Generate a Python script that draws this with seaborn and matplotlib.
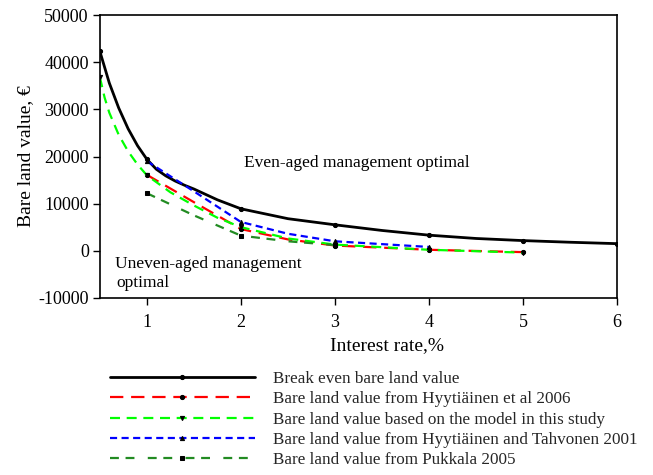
import numpy as np
import pandas as pd
import matplotlib
matplotlib.use("Agg")
import matplotlib.pyplot as plt
import seaborn as sns

# ---- data ----
be_rate = [0.5, 0.6, 0.7, 0.8, 0.9, 1.0, 1.1, 1.2, 1.3, 1.4, 1.5, 1.75, 2.0, 2.5, 3.0, 3.5, 4.0, 4.5, 5.0, 5.5, 6.0]
be_value = [42300, 35600, 30300, 25900, 22300, 19400, 17300, 15900, 14800, 13900, 13100, 10800, 8900,
            6800, 5500, 4300, 3300, 2600, 2150, 1800, 1500]
be_marks = [0, 5, 12, 14, 16, 18, 20]

h06_rate = [1.0, 1.5, 2.0, 2.5, 3.0, 4.0, 5.0]
h06_value = [16100, 10300, 4600, 2400, 1100, 200, -300]
h06_marks = [0, 2, 4, 5, 6]

st_rate = [0.5, 0.55, 0.6, 0.7, 0.8, 0.9, 1.0, 1.25, 1.5, 1.75, 2.0, 2.5, 3.0, 4.0, 5.0]
st_value = [36800, 32500, 29300, 24600, 21100, 18300, 16000, 12400, 9600, 7000, 5000, 2600, 1300, 200, -400]
st_marks = [0, 6, 10, 12, 13, 14]

ht_rate = [1.0, 1.5, 2.0, 2.5, 3.0, 4.0]
ht_value = [19000, 12600, 6100, 3600, 2000, 800]
ht_marks = [0, 2, 4, 5]

pk_rate = [1.0, 1.5, 2.0, 2.5, 3.0]
pk_value = [12200, 7500, 3200, 2000, 1200]
pk_marks = [0, 2, 4]

labels = ["Break even bare land value",
          "Bare land value from Hyytiäinen et al 2006",
          "Bare land value based on the model in this study",
          "Bare land value from Hyytiäinen and Tahvonen 2001",
          "Bare land value from Pukkala 2005"]

x_ticks = [1, 2, 3, 4, 5, 6]
y_ticks = [-10000, 0, 10000, 20000, 30000, 40000, 50000]

sns.set_theme(style="white")
plt.rcParams["font.family"] = ["Liberation Serif", "DejaVu Serif"]

fig = plt.figure(figsize=(6.53, 4.75), dpi=100)
ax = fig.add_axes([0.153, 0.373, 0.792, 0.595])

series = [
    (be_rate, be_value, be_marks, "black", "-", "o", 2.0),
    (h06_rate, h06_value, h06_marks, "#ff0000", (0, (6, 3.5)), "o", 1.6),
    (st_rate, st_value, st_marks, "#00ff00", (0, (4.5, 3)), "v", 1.6),
    (ht_rate, ht_value, ht_marks, "#0000ff", (0, (3.2, 2)), "^", 1.6),
    (pk_rate, pk_value, pk_marks, "#228b22", (0, (4, 3, 4, 6)), "s", 1.6),
]
for (r, v, m, c, ls, mk, lw), lab in zip(series, labels):
    df = pd.DataFrame({"rate": r, "value": v})
    sns.lineplot(data=df, x="rate", y="value", ax=ax, color=c, linestyle=ls,
                 linewidth=lw, marker=mk, markersize=3, markerfacecolor="black",
                 markeredgecolor="black", markevery=m, label=lab,
                 errorbar=None, sort=False, legend=False)

ax.set_xlim(0.5, 6)
ax.set_ylim(-10000, 50000)
ax.set_xticks(x_ticks)
ax.set_yticks(y_ticks)
ax.set_xticklabels([str(t) for t in x_ticks])
ax.set_yticklabels([str(t) for t in y_ticks])
ax.tick_params(axis="both", direction="out", length=5, width=1, labelsize=13,
               colors="black", bottom=True, left=True, top=False, right=False)
ax.tick_params(axis="x", pad=7)
ax.tick_params(axis="y", pad=3)
for s in ax.spines.values():
    s.set_color("black")
    s.set_linewidth(1.2)
ax.set_xlabel("Interest rate,%", fontsize=14, color="black")
ax.xaxis.set_label_coords(0.555, -0.14)
ax.set_ylabel("Bare land value, €", fontsize=14, labelpad=3, color="black")

ax.text(2.03, 18600, "Even-aged management optimal", fontsize=12.5,
        va="center", ha="left", color="black")
ax.text(0.66, -2800, "Uneven-aged management", fontsize=12.5,
        va="center", ha="left", color="black")
ax.text(0.68, -6800, "optimal", fontsize=12.5, va="center", ha="left", color="black")

handles = ax.get_lines()[:5]
fig.legend(handles, labels, loc="upper left", bbox_to_anchor=(0.168, 0.219),
           frameon=False, fontsize=12.3, handlelength=8.5, handletextpad=1.05,
           labelspacing=0.25, borderpad=0, borderaxespad=0, numpoints=1)

fig.savefig("out.png", dpi=100)
